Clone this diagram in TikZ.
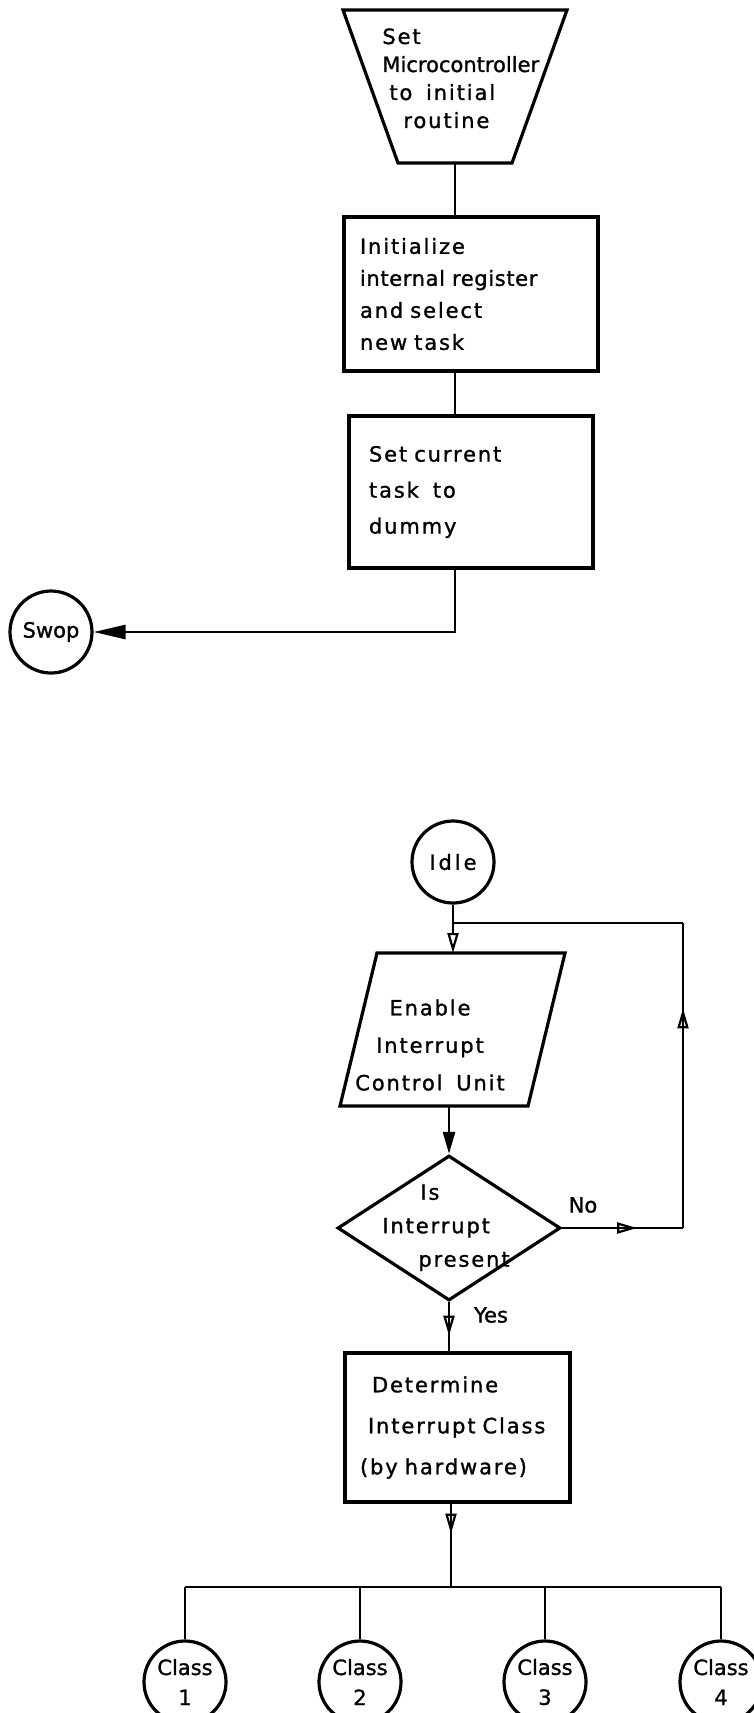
\documentclass[tikz,border=0pt]{standalone}
\usepackage{fontspec}
\setmainfont{DejaVu Sans}[FakeBold=1.2]
\newfontfamily\boxfont{DejaVu Sans}[LetterSpace=9, WordSpace=1.6, FakeBold=1.2]
\usetikzlibrary{arrows.meta}
\usetikzlibrary{shapes.geometric}
\usetikzlibrary{decorations.markings}

\tikzset{
  open head/.tip={Triangle[open, length=10pt, width=5.5pt, line width=1.1pt]},
  fill head/.tip={Triangle[length=11pt, width=6pt]},
  flow/.style={line width=1.4pt},
  midarrow/.style={postaction={decorate},
    decoration={markings, mark=at position #1 with {\arrow{open head}}}},
  midarrow/.default=0.5,
  outline/.style={draw, line width=1.6pt, inner sep=0},
  block/.style={outline, rectangle, align=left, inner xsep=8pt,
    font=\boxfont\fontsize{10.5}{#1}\selectfont},
  inside/.style={inner sep=0, font=\boxfont\fontsize{10.5}{#1}\selectfont},
  terminal/.style={outline, circle, minimum size=41pt, font=\fontsize{10.5}{13}\selectfont},
  class/.style={outline, ellipse, minimum width=41pt, minimum height=41pt,
    align=center, font=\fontsize{10.5}{15}\selectfont},
}

\begin{document}
\begin{tikzpicture}[x=0.5pt, y=-0.5pt]
  \useasboundingbox (0,0) rectangle (754,1713);

  % start up routine
  \coordinate (start-nw) at (343,10);
  \coordinate (start-ne) at (567,10);
  \coordinate (start-se) at (512,163);
  \coordinate (start-sw) at (398,163);
  \coordinate (start-s)  at (455,163);
  \draw[outline] (start-nw) -- (start-ne) -- (start-se) -- (start-sw) -- cycle;
  \node[inside=14pt, anchor=north west, align=left] (start-text) at (382,28)
    {Set\\{\addfontfeatures{LetterSpace=0}Microcontroller}\\\hspace*{3.5pt}to initial\\\hspace*{10.5pt}routine};

  \node[block=16pt, minimum width=127pt, minimum height=77pt, text width=111pt] (init) at (471,294)
    {Initialize\\{\addfontfeatures{LetterSpace=3}internal register}\\and select\\new task};
  \node[block=18pt, inner xsep=10pt, minimum width=122pt, minimum height=76pt, text width=102pt] (dummy) at (471,492)
    {Set current\\task\ \ to\\dummy};
  \node[terminal] (swop) at (51,632) {Swop};

  \draw[flow] (start-s) -- (start-s |- init.north);
  \draw[flow] (start-s |- init.south) -- (start-s |- dummy.north);
  \draw[flow, -{Triangle[length=16pt, width=7pt]}] (start-s |- dummy.south) |- (swop);

  % idle loop
  \node[terminal, font=\boxfont\fontsize{10.5}{13}\addfontfeatures{LetterSpace=14}\selectfont] (idle) at (453,862) {Idle};
  \coordinate (enable-nw) at (377,953);
  \coordinate (enable-ne) at (565,953);
  \coordinate (enable-se) at (528,1106);
  \coordinate (enable-sw) at (340,1106);
  \coordinate (enable-n)  at (453,953);
  \coordinate (enable-s)  at (449,1106);
  \draw[outline] (enable-nw) -- (enable-ne) -- (enable-se) -- (enable-sw) -- cycle;
  \node[inside=18.75pt, anchor=north, align=center] (enable-text) at (430,999)
    {Enable\\Interrupt\\Control Unit};
  \node[outline, diamond, minimum width=111.5pt, minimum height=72.5pt] (test) at (449,1228) {};
  \node[inside=16.75pt, anchor=north west, align=left] (test-text) at (382,1184)
    {\hspace*{19pt}Is\\Interrupt\\\hspace*{18pt}present};

  \coordinate (join) at (453,923);
  \coordinate (loop-low) at (683,1228);
  \coordinate (loop-high) at (683,923);

  \draw[flow, -{open head}] (idle.south) -- (enable-n);
  \draw[flow, -{fill head}] (enable-s) -- (test.north);
  \draw[flow, midarrow=0.62] (test.east) -- (loop-low);
  \draw[flow, midarrow=0.72] (loop-low) -- (loop-high);
  \draw[flow] (loop-high) -- (join);
  \node[font=\fontsize{10.5}{13}\selectfont] (no) at (583,1205) {No};

  % classify the interrupt
  \node[block=20.5pt, inner xsep=7.5pt, minimum width=112.5pt, minimum height=74.5pt, text width=97.5pt] (classify) at (457.5,1427.5)
    {\hspace*{6pt}Determine\\\hspace*{4pt}Interrupt Class\\(by hardware)};
  \draw[flow, midarrow=0.68] (test.south) -- (test.south |- classify.north);
  \node[font=\fontsize{10.5}{13}\selectfont] (yes) at (491,1315) {Yes};

  \coordinate (bus) at (451,1587);
  \foreach \x/\n in {185/1,360/2,545/3,721/4}
  {
    \node[class] (class\n) at (\x,1682) {Class\\\n};
  }
  \draw[flow, midarrow=0.36] (classify.south -| bus) -- (bus);
  \draw[flow] (class1 |- bus) -- (class4 |- bus);
  \foreach \n in {1,...,4}
    \draw[flow] (class\n |- bus) -- (class\n.north);

\end{tikzpicture}
\end{document}
